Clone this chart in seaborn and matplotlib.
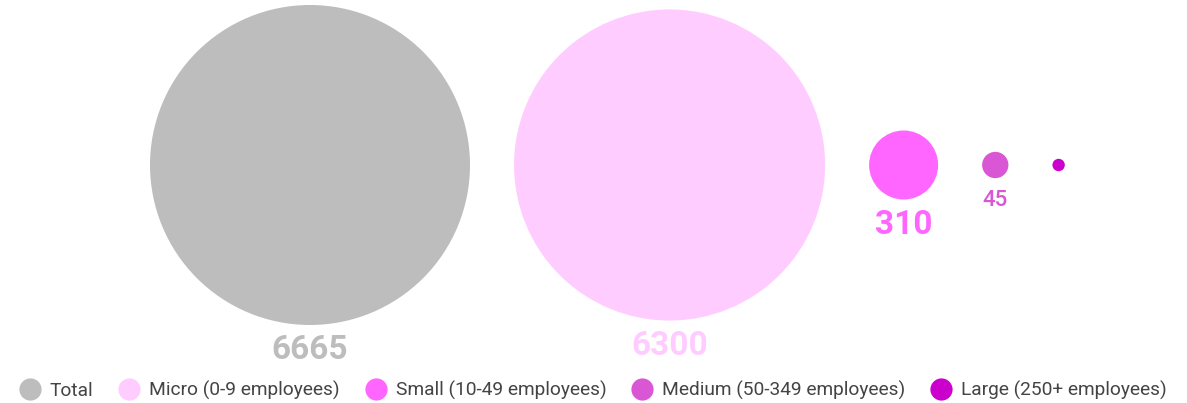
import numpy as np
import pandas as pd
import seaborn as sns
import matplotlib.pyplot as plt
from matplotlib.lines import Line2D

# Dados do gráfico
segmentos = ['Total', 'Micro (0-9 employees)', 'Small (10-49 employees)',
             'Medium (50-349 employees)', 'Large (250+ employees)']
valores = [6665, 6300, 310, 45, 10]
cores = ['#bdbdbd', '#ffccff', '#ff66ff', '#d957d5', '#cc00cc']

sns.set_theme(style='white')
plt.rcParams['font.family'] = ['Roboto', 'DejaVu Sans']

DPI = 100
W, H = 1187, 403
fig = plt.figure(figsize=(W / DPI, H / DPI), dpi=DPI)
ax = fig.add_axes([0, 0, 1, 1])

# Diâmetro (px) proporcional à raiz do valor; bolhas lado a lado com espaço fixo
d_max = 320
gap = 44
diam = d_max * np.sqrt(np.array(valores) / max(valores))
x = []
pos = 150
for d in diam:
    x.append(pos + d / 2)
    pos += d + gap
y_centro = 165

df = pd.DataFrame({'segmento': segmentos, 'valor': valores,
                   'x': x, 'y': y_centro})
tam = {s: (d * 72 / DPI) ** 2 for s, d in zip(segmentos, diam)}
sns.scatterplot(data=df, x='x', y='y', hue='segmento', size='segmento',
                palette=dict(zip(segmentos, cores)), sizes=tam,
                linewidth=0, legend=False, ax=ax)

# Rótulos abaixo das bolhas
for xi, d, v, c in zip(x, diam, valores, cores):
    if v < 20:
        continue
    if v >= 100:
        ax.text(xi, y_centro + d / 2 + 9, f'{v}', ha='center', va='top',
                fontsize=24, fontweight='bold', color=c)
    else:
        ax.text(xi, y_centro + d / 2 + 12, f'{v}', ha='center', va='top',
                fontsize=16, fontweight='medium', color=c)

ax.set_xlim(0, W)
ax.set_ylim(H, 0)
ax.axis('off')

handles = [Line2D([0], [0], marker='o', linestyle='', markersize=16,
                  markerfacecolor=c, markeredgewidth=0) for c in cores]
fig.legend(handles, segmentos, loc='lower center', ncol=5, frameon=False,
           bbox_to_anchor=(0.5, -0.035), fontsize=13.8, handlelength=1.0,
           handletextpad=0.54, columnspacing=1.375, labelcolor='#444444')

fig.savefig('out.png', dpi=DPI)
